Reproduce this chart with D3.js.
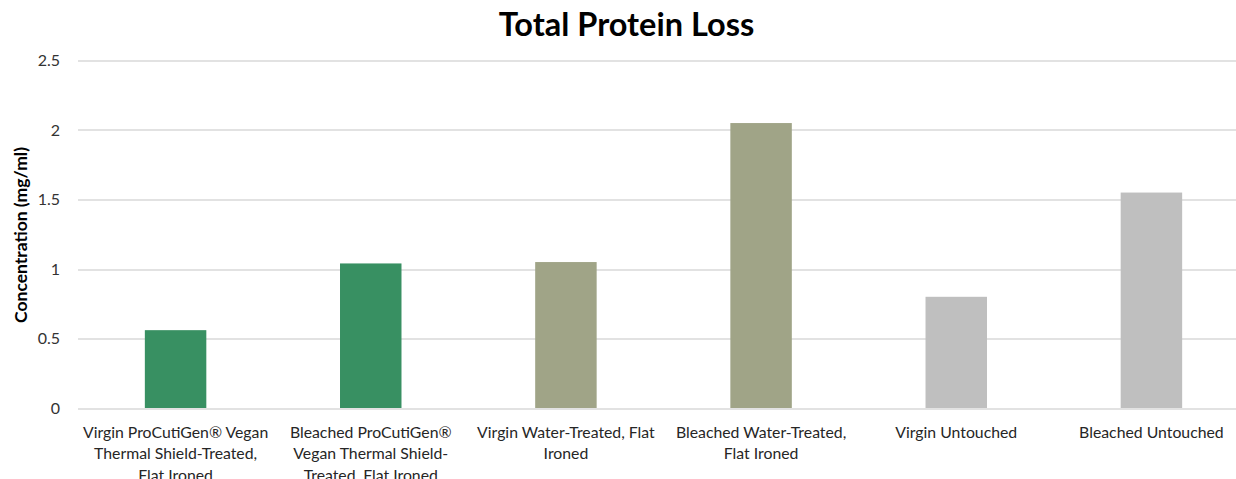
<!DOCTYPE html>
<html>
<head>
<meta charset="utf-8">
<script src="https://cdn.jsdelivr.net/npm/d3@7"></script>
<style>
  body { margin: 0; background: #fff; }
  text { font-family: Lato, "Open Sans", sans-serif; fill: #000; }
</style>
</head>
<body>
<div id="chart"></div>
<script>
// data
var categories = [
  ["Virgin ProCutiGen® Vegan", "Thermal Shield-Treated,", "Flat Ironed"],
  ["Bleached ProCutiGen®", "Vegan Thermal Shield-", "Treated, Flat Ironed"],
  ["Virgin Water-Treated, Flat", "Ironed"],
  ["Bleached Water-Treated,", "Flat Ironed"],
  ["Virgin Untouched"],
  ["Bleached Untouched"]
];
var values = [0.56, 1.04, 1.05, 2.05, 0.80, 1.55];
var barColors = ["#389062", "#389062", "#a0a487", "#a0a487", "#bfbfbf", "#bfbfbf"];
var yTicks = [0, 0.5, 1, 1.5, 2, 2.5];

function init() {
  var W = 1236, H = 479;
  var margin = {top: 60.5, right: -13, bottom: 71, left: 78};
  var width = W - margin.left - margin.right,
      height = H - margin.top - margin.bottom;

  var svg = d3.select("#chart").append("svg")
      .attr("width", W).attr("height", H);

  var g = svg.append("g")
      .attr("transform", "translate(" + margin.left + "," + margin.top + ")");

  var x = d3.scaleBand()
      .domain(d3.range(categories.length))
      .range([0, width])
      .paddingInner(0.685)
      .paddingOuter(0.3425);

  var y = d3.scaleLinear()
      .domain([0, 2.5])
      .range([height, 0]);

  // gridlines
  g.append("g").selectAll("line")
    .data(yTicks)
    .enter().append("line")
      .attr("x1", 0).attr("x2", width)
      .attr("y1", function(d) { return Math.round(y(d)) + 0.5; })
      .attr("y2", function(d) { return Math.round(y(d)) + 0.5; })
      .attr("stroke", "#d9d9d9")
      .attr("stroke-width", 1.3);

  // y tick labels
  g.append("g").selectAll("text")
    .data(yTicks)
    .enter().append("text")
      .attr("x", -18)
      .attr("y", function(d) { return y(d); })
      .attr("dy", "0.35em")
      .attr("text-anchor", "end")
      .style("font-size", "16px")
      .style("fill", "#333")
      .text(function(d) { return d; });

  // bars
  g.append("g").selectAll("rect")
    .data(values)
    .enter().append("rect")
      .attr("x", function(d, i) { return x(i); })
      .attr("y", function(d) { return y(d); })
      .attr("width", x.bandwidth())
      .attr("height", function(d) { return y(0) - y(d); })
      .attr("fill", function(d, i) { return barColors[i]; });

  // category labels
  var labels = g.append("g").selectAll("text")
    .data(categories)
    .enter().append("text")
      .attr("text-anchor", "middle")
      .attr("transform", function(d, i) {
        return "translate(" + (x(i) + x.bandwidth() / 2) + "," + (height + 29.5) + ")";
      })
      .style("font-size", "15.8px")
      .style("fill", "#262626");

  labels.selectAll("tspan")
    .data(function(d) { return d; })
    .enter().append("tspan")
      .attr("x", 0)
      .attr("y", function(d, i) { return i * 21.5; })
      .text(function(d) { return d; });

  // y axis title
  svg.append("text")
      .attr("transform", "translate(27,235) rotate(-90)")
      .attr("text-anchor", "middle")
      .style("font-size", "17.5px")
      .style("font-weight", "bold")
      .text("Concentration (mg/ml)");

  // chart title
  svg.append("text")
      .attr("x", 626.5)
      .attr("y", 36)
      .attr("text-anchor", "middle")
      .style("font-size", "32.5px")
      .style("font-weight", "bold")
      .text("Total Protein Loss");
}

window.onload = init;
</script>
</body>
</html>
